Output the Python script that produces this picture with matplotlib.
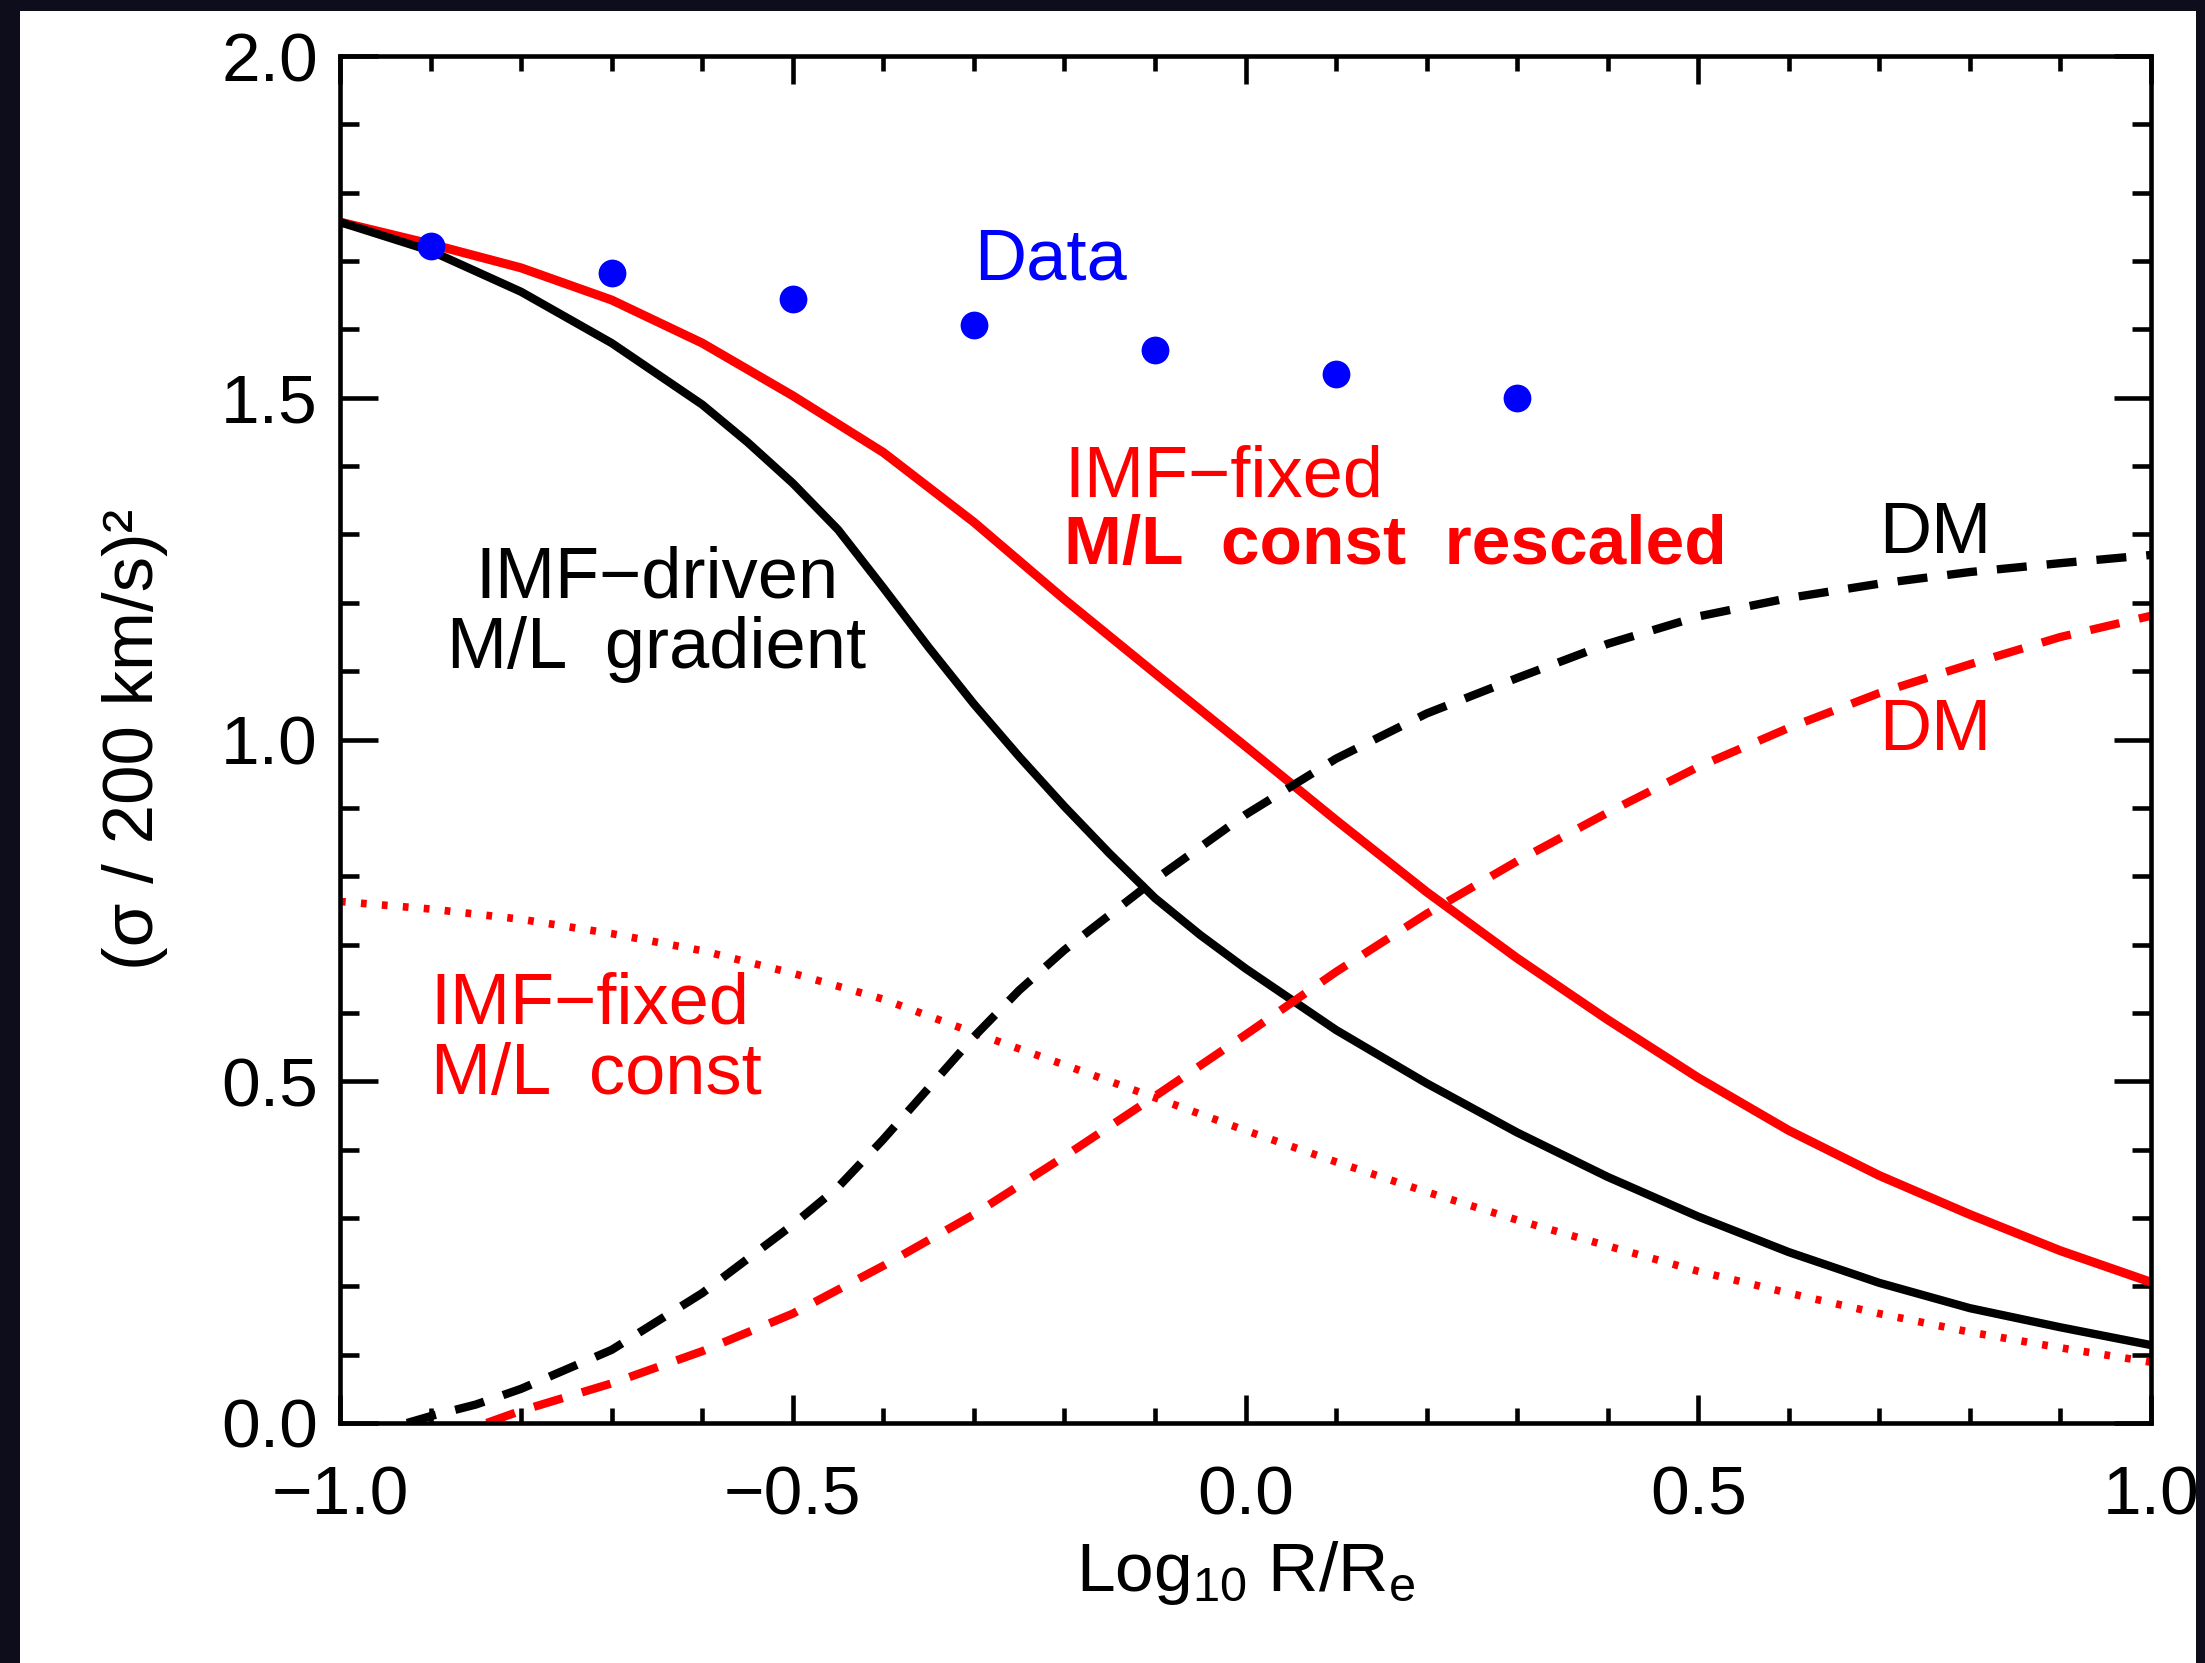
import matplotlib
matplotlib.use("Agg")
import matplotlib.pyplot as plt
from matplotlib.patches import Rectangle
import numpy as np

plt.rcParams['font.family'] = ['Liberation Sans', 'DejaVu Sans']
plt.rcParams['mathtext.fontset'] = 'custom'
plt.rcParams['mathtext.rm'] = 'Liberation Sans'
plt.rcParams['mathtext.it'] = 'Liberation Sans:italic'

# --- data ---
# IMF-driven, M/L gradient (black solid)
driven_x = [-1.0, -0.9, -0.8, -0.7, -0.6, -0.55, -0.5, -0.45, -0.4, -0.35, -0.3, -0.25, -0.2,
            -0.15, -0.1, -0.05, 0.0, 0.1, 0.2, 0.3, 0.4, 0.5, 0.6, 0.7, 0.8, 0.9, 1.0]
driven_y = [1.757, 1.715, 1.655, 1.58, 1.49, 1.435, 1.375, 1.307, 1.222, 1.135, 1.052, 0.975, 0.902,
            0.833, 0.768, 0.714, 0.665, 0.575, 0.497, 0.425, 0.36, 0.302, 0.25, 0.205, 0.168, 0.14, 0.114]

# IMF-fixed, M/L const rescaled (red solid)
resc_x = [-1.0, -0.9, -0.8, -0.7, -0.6, -0.5, -0.4, -0.3, -0.2, -0.1,
          0.0, 0.1, 0.2, 0.3, 0.4, 0.5, 0.6, 0.7, 0.8, 0.9, 1.0]
resc_y = [1.757, 1.725, 1.69, 1.643, 1.58, 1.503, 1.42, 1.318, 1.205, 1.097,
          0.99, 0.882, 0.777, 0.68, 0.59, 0.505, 0.428, 0.362, 0.305, 0.252, 0.206]

# IMF-fixed, M/L const (red dotted)
const_x = [-1.0, -0.9, -0.8, -0.7, -0.6, -0.5, -0.4, -0.3, -0.2, -0.1,
           0.0, 0.1, 0.2, 0.3, 0.4, 0.5, 0.6, 0.7, 0.8, 0.9, 1.0]
const_y = [0.763, 0.752, 0.737, 0.716, 0.691, 0.658, 0.62, 0.571, 0.524, 0.476,
           0.428, 0.382, 0.338, 0.297, 0.259, 0.222, 0.19, 0.16, 0.133, 0.11, 0.089]

# DM contributions (dashed)
dm_black_x = [-0.926, -0.9, -0.85, -0.8, -0.7, -0.6, -0.5, -0.45, -0.4, -0.35, -0.3, -0.25, -0.2, -0.1,
              0.0, 0.1, 0.2, 0.3, 0.4, 0.5, 0.6, 0.7, 0.8, 0.9, 1.0]
dm_black_y = [0.0, 0.01, 0.027, 0.05, 0.107, 0.19, 0.29, 0.345, 0.415, 0.49, 0.565, 0.633, 0.692, 0.795,
              0.89, 0.972, 1.038, 1.09, 1.14, 1.18, 1.207, 1.228, 1.245, 1.258, 1.27]
dm_red_x = [-0.838, -0.8, -0.7, -0.6, -0.5, -0.4, -0.3, -0.2, -0.1,
            0.0, 0.1, 0.2, 0.3, 0.4, 0.5, 0.6, 0.7, 0.8, 0.9, 1.0]
dm_red_y = [0.0, 0.018, 0.058, 0.105, 0.16, 0.23, 0.305, 0.39, 0.478,
            0.568, 0.66, 0.745, 0.822, 0.893, 0.96, 1.017, 1.068, 1.11, 1.15, 1.181]

# observed points
data_x = [-0.9, -0.7, -0.5, -0.3, -0.1, 0.1, 0.3]
data_y = [1.722, 1.683, 1.644, 1.606, 1.570, 1.535, 1.500]

fig = plt.figure(figsize=(22.05, 16.63), dpi=100)
fig.patch.set_facecolor('#0d0d1c')
# white panel (the slide background)
fig.add_artist(Rectangle((20 / 2205, 0), (2196 - 20) / 2205, 1 - 11 / 1663,
                         transform=fig.transFigure, facecolor='white', edgecolor='none', zorder=-1))

ax = fig.add_axes([340 / 2205, 1 - 1423 / 1663, 1811 / 2205, 1367 / 1663])
ax.set_facecolor('white')

ax.plot(resc_x, resc_y, color='#ff0000', lw=6.5, solid_capstyle='butt')
ax.plot(driven_x, driven_y, color='black', lw=6, solid_capstyle='butt')
ax.plot(const_x, const_y, color='#ff0000', lw=5.5, dashes=(0.75, 2.0), dash_capstyle='butt')
ax.plot(dm_black_x, dm_black_y, color='black', lw=6, dashes=(3.6, 2.4), dash_capstyle='butt')
ax.plot(dm_red_x, dm_red_y, color='#ff0000', lw=6, dashes=(3.6, 2.4), dash_capstyle='butt')
ax.plot(data_x, data_y, 'o', color='#0000ff', ms=20, mec='none')

fs = 52
ax.text(-0.30, 1.70, 'Data', color='#0000ff', fontsize=fs, ha='left', va='center')
ax.text(-0.20, 1.382, 'IMF\u2212fixed', color='#ff0000', fontsize=fs, ha='left', va='center')
ax.text(-0.20, 1.283, 'M/L  const  rescaled', color='#ff0000', fontsize=fs - 2,
        fontweight='bold', ha='left', va='center')
ax.text(-0.851, 1.235, 'IMF\u2212driven', color='black', fontsize=fs, ha='left', va='center')
ax.text(-0.882, 1.131, 'M/L  gradient', color='black', fontsize=fs, ha='left', va='center')
ax.text(-0.90, 0.611, 'IMF\u2212fixed', color='#ff0000', fontsize=fs, ha='left', va='center')
ax.text(-0.90, 0.508, 'M/L  const', color='#ff0000', fontsize=fs, ha='left', va='center')
ax.text(0.70, 1.30, 'DM', color='black', fontsize=fs, ha='left', va='center')
ax.text(0.70, 1.012, 'DM', color='#ff0000', fontsize=fs, ha='left', va='center')

ax.set_xlim(-1, 1)
ax.set_ylim(0, 2)
ax.set_xticks([-1.0, -0.5, 0.0, 0.5, 1.0])
ax.set_yticks([0.0, 0.5, 1.0, 1.5, 2.0])
ax.set_xticks(np.arange(-1, 1.001, 0.1), minor=True)
ax.set_yticks(np.arange(0, 2.001, 0.1), minor=True)
ax.set_xticklabels(['\u22121.0', '\u22120.5', '0.0', '0.5', '1.0'])
ax.set_yticklabels(['0.0', '0.5', '1.0', '1.5', '2.0'])

for s in ax.spines.values():
    s.set_linewidth(3.3)
ax.tick_params(which='both', direction='in', top=True, right=True, width=3.3, labelsize=50)
ax.tick_params(axis='x', which='major', length=20, pad=30)
ax.tick_params(axis='x', which='minor', length=11)
ax.tick_params(axis='y', which='major', length=27, pad=16)
ax.tick_params(axis='y', which='minor', length=14)

ax.set_xlabel(r'Log$_{10}$ R/R$_{\rm e}$', fontsize=50)
ax.xaxis.set_label_coords(0.5, -0.085)
ax.set_ylabel('(\u03c3 / 200 km/s)\u00b2', fontsize=51)
ax.yaxis.set_label_coords(-0.095, 0.5)

# dark strip on the right edge, crops the last tick label as in the original
fig.add_artist(Rectangle((2196 / 2205, 0), 9 / 2205, 1, transform=fig.transFigure,
                         facecolor='#0d0d1c', edgecolor='none', zorder=10))

fig.savefig('out.png', dpi=100, facecolor=fig.get_facecolor())
